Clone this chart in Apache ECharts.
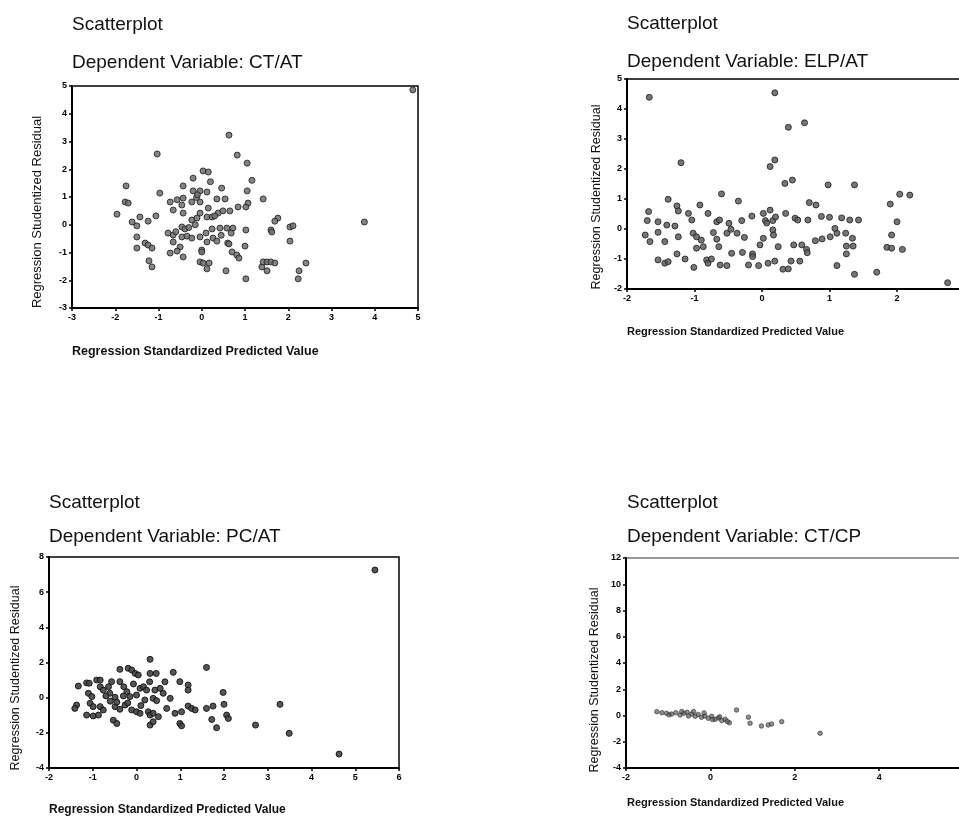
<!DOCTYPE html>
<html>
<head>
<meta charset="utf-8">
<title>Scatterplots</title>
<script src="https://cdn.jsdelivr.net/npm/echarts@6/dist/echarts.min.js"></script>
<style>
  html, body { margin: 0; padding: 0; background: #fff; }
  #main { width: 959px; height: 818px; }
</style>
</head>
<body>
<div id="main"></div>
<script>
// predicted value (x) / studentized residual (y)
var ctAtPoints = [
  [4.88, 4.86], [0.63, 3.23], [-1.03, 2.55], [0.82, 2.51], [1.05, 2.22], [0.03, 1.94], [0.15, 1.9],
  [-0.2, 1.68], [0.2, 1.55], [1.16, 1.6], [-1.75, 1.4], [-0.43, 1.4], [0.46, 1.32], [-0.2, 1.22],
  [-0.04, 1.22], [0.12, 1.18], [1.05, 1.22], [-0.97, 1.14], [-0.43, 0.96], [-0.23, 0.82], [-0.04, 0.82],
  [0.35, 0.93], [0.54, 0.93], [1.42, 0.93], [-1.77, 0.82], [-1.7, 0.78], [-0.73, 0.82], [-0.57, 0.9],
  [1.07, 0.78], [-0.66, 0.53], [-0.46, 0.71], [0.15, 0.6], [-0.04, 0.42], [0.12, 0.28], [0.24, 0.28],
  [0.38, 0.42], [0.49, 0.5], [0.65, 0.5], [0.84, 0.64], [1.02, 0.64], [-1.96, 0.38], [-1.43, 0.28],
  [-1.24, 0.13], [-1.06, 0.32], [-0.43, 0.42], [-0.23, 0.17], [-0.11, 0.24], [-1.61, 0.1], [-1.5, -0.04],
  [1.76, 0.24], [1.69, 0.13], [3.76, 0.1], [2.04, -0.08], [2.11, -0.04], [-0.46, -0.08], [-0.39, -0.15],
  [0.24, -0.15], [0.42, -0.12], [0.58, -0.12], [0.72, -0.12], [1.02, -0.19], [1.6, -0.19], [1.62, -0.26],
  [-0.78, -0.3], [-0.66, -0.37], [-0.46, -0.44], [-0.34, -0.41], [-0.23, -0.48], [-0.04, -0.44],
  [0.26, -0.48], [0.68, -0.3], [-1.5, -0.44], [0.12, -0.62], [0.35, -0.59], [0.6, -0.66], [0.63, -0.69],
  [1.0, -0.77], [2.04, -0.59], [-1.31, -0.66], [-1.24, -0.73], [-1.15, -0.84], [-1.5, -0.84],
  [-0.66, -0.62], [-0.5, -0.8], [-0.57, -0.95], [-0.73, -1.02], [0.0, -0.91], [0.0, -0.98],
  [-0.43, -1.16], [0.7, -0.98], [0.81, -1.09], [0.86, -1.2], [-1.22, -1.3], [-1.15, -1.52],
  [-0.04, -1.34], [0.03, -1.38], [0.17, -1.38], [0.12, -1.59], [0.56, -1.66], [1.02, -1.95],
  [1.39, -1.52], [1.42, -1.34], [1.51, -1.34], [1.6, -1.34], [1.69, -1.38], [1.51, -1.66],
  [2.25, -1.66], [2.41, -1.38], [2.23, -1.95], [-0.12, 0.98], [-0.1, 1.08], [0.3, 0.32],
  [-0.15, 0.0], [-0.3, -0.1], [-0.6, -0.25], [0.45, -0.38], [0.1, -0.3]
];

var elpAtPoints = [
  [-1.67, 4.39], [0.19, 4.54], [0.39, 3.39], [0.63, 3.54], [-1.2, 2.21], [0.12, 2.08], [0.19, 2.3],
  [0.34, 1.52], [0.45, 1.63], [0.98, 1.47], [1.37, 1.47], [-0.6, 1.17], [-0.35, 0.93], [1.9, 0.83],
  [2.04, 1.16], [2.19, 1.13], [-1.39, 0.99], [-1.68, 0.58], [-1.26, 0.77], [-1.24, 0.6], [-1.7, 0.28],
  [-1.54, 0.24], [-1.41, 0.13], [-1.29, 0.1], [-1.09, 0.52], [-1.04, 0.3], [-0.92, 0.8], [-0.8, 0.52],
  [-0.67, 0.24], [-0.63, 0.3], [-0.49, 0.19], [-0.3, 0.28], [-0.15, 0.43], [0.02, 0.52], [0.12, 0.63],
  [0.05, 0.28], [0.07, 0.2], [0.16, 0.28], [0.2, 0.4], [0.35, 0.52], [0.49, 0.36], [0.53, 0.3],
  [0.68, 0.3], [0.7, 0.88], [0.8, 0.8], [0.88, 0.42], [1.0, 0.39], [1.18, 0.37], [1.3, 0.3],
  [1.43, 0.3], [-1.73, -0.2], [-1.66, -0.42], [-1.54, -0.11], [-1.44, -0.42], [-1.24, -0.26],
  [-1.02, -0.14], [-0.97, -0.26], [-0.9, -0.37], [-0.87, -0.59], [-0.97, -0.64], [-0.72, -0.12],
  [-0.67, -0.34], [-0.64, -0.59], [-0.52, -0.14], [-0.46, -0.01], [-0.37, -0.14], [-0.26, -0.28],
  [-0.45, -0.81], [-0.29, -0.78], [-0.14, -0.83], [-0.14, -0.92], [-0.03, -0.53], [0.02, -0.31],
  [0.16, -0.03], [0.17, -0.2], [0.24, -0.59], [0.47, -0.53], [0.59, -0.53], [0.66, -0.68],
  [0.67, -0.79], [0.79, -0.39], [0.89, -0.33], [1.01, -0.26], [1.11, -0.14], [1.08, 0.02],
  [1.24, -0.14], [1.25, -0.57], [1.25, -0.83], [1.34, -0.31], [1.35, -0.57], [1.92, -0.2],
  [1.85, -0.61], [1.92, -0.64], [2.08, -0.68], [2.0, 0.24], [-1.54, -1.03], [-1.44, -1.14],
  [-1.39, -1.09], [-1.26, -0.83], [-1.14, -1.0], [-1.01, -1.28], [-0.82, -1.03], [-0.8, -1.14],
  [-0.75, -1.0], [-0.62, -1.2], [-0.52, -1.22], [-0.2, -1.2], [-0.05, -1.22], [0.09, -1.14],
  [0.19, -1.07], [0.31, -1.34], [0.39, -1.33], [0.43, -1.07], [0.56, -1.07], [1.11, -1.22],
  [1.37, -1.51], [1.7, -1.44], [2.75, -1.79]
];

var pcAtPoints = [
  [5.45, 7.26], [0.31, 2.18], [1.6, 1.72], [-0.19, 1.67], [-0.11, 1.57], [-0.38, 1.61], [-0.03, 1.38],
  [0.04, 1.29], [0.31, 1.38], [0.45, 1.38], [0.84, 1.44], [0.99, 0.91], [1.18, 0.72], [1.18, 0.43],
  [1.98, 0.3], [-1.33, 0.66], [-1.14, 0.84], [-1.08, 0.82], [-0.91, 1.0], [-0.83, 1.0], [-0.57, 0.91],
  [-0.64, 0.62], [-0.83, 0.62], [-0.76, 0.43], [-1.1, 0.25], [-1.02, 0.06], [-0.38, 0.91], [-0.29, 0.62],
  [-0.07, 0.78], [0.08, 0.53], [0.16, 0.62], [0.23, 0.43], [0.42, 0.43], [0.54, 0.53], [0.61, 0.25],
  [0.77, -0.04], [-0.61, 0.25], [-0.49, 0.02], [-0.22, 0.34], [-0.15, 0.06], [0.0, 0.15], [0.19, -0.13],
  [0.38, -0.04], [0.46, -0.17], [-1.37, -0.42], [-1.41, -0.61], [-1.06, -0.32], [-0.99, -0.51],
  [-0.83, -0.51], [-0.76, -0.7], [-0.49, -0.51], [-0.38, -0.66], [-0.26, -0.42], [-0.11, -0.7],
  [0.0, -0.8], [0.08, -0.89], [0.27, -0.8], [0.31, -0.99], [0.38, -0.89], [0.5, -1.08], [0.69, -0.61],
  [0.88, -0.89], [1.03, -0.8], [1.18, -0.48], [1.26, -0.61], [1.34, -0.7], [1.6, -0.61], [1.75, -0.48],
  [2.0, -0.38], [2.06, -0.99], [2.1, -1.18], [1.72, -1.24], [1.83, -1.71], [0.99, -1.47], [1.03, -1.6],
  [0.31, -1.56], [0.38, -1.37], [-0.53, -1.28], [-0.45, -1.47], [-1.14, -0.99], [-0.99, -1.04],
  [-0.87, -0.99], [2.72, -1.56], [3.28, -0.38], [3.49, -2.03], [4.63, -3.21], [-0.3, 0.1],
  [-0.45, -0.25], [0.1, -0.45], [-0.6, -0.2], [-0.2, -0.3], [0.3, 0.9], [-0.7, 0.1], [0.65, 0.9]
];

var ctCpPoints = [
  [-1.27, 0.29], [-1.15, 0.21], [-1.04, 0.17], [-0.92, 0.11], [-0.82, 0.21], [-0.72, 0.04], [-0.63, 0.17],
  [-0.52, -0.04], [-0.44, 0.11], [-0.36, -0.06], [-0.29, 0.08], [-0.21, -0.13], [-0.13, -0.04],
  [-0.05, -0.21], [0.03, -0.06], [0.11, -0.29], [0.19, -0.19], [0.27, -0.39], [0.35, -0.29],
  [0.45, -0.55], [0.62, 0.42], [0.9, -0.13], [0.94, -0.59], [1.21, -0.8], [1.37, -0.72], [1.45, -0.65],
  [1.69, -0.47], [2.6, -1.35], [-0.68, 0.3], [-0.4, 0.3], [-0.15, 0.2], [0.05, -0.3], [0.22, -0.1],
  [-0.55, 0.25], [-0.98, 0.05], [0.4, -0.45]
];

var chart = echarts.init(document.getElementById('main'));

var FONT = '"Liberation Sans", Arial, sans-serif';

function grid(left, top, width, height, border) {
  return {
    left: left, top: top, width: width, height: height,
    outerBoundsMode: 'none',
    show: true, borderColor: border, borderWidth: 1.5, backgroundColor: '#fff'
  };
}

function axis(idx, min, max, interval) {
  return {
    type: 'value', gridIndex: idx, min: min, max: max, interval: interval,
    splitLine: { show: false },
    axisLine: { show: true, onZero: false, lineStyle: { color: '#000', width: 2 } },
    axisTick: { show: true, length: 3, lineStyle: { color: '#000', width: 1.5 } },
    axisLabel: { fontSize: 9, fontWeight: 'bold', color: '#000', margin: 5, fontFamily: FONT }
  };
}

function dots(idx, data, size, fill, stroke, alpha) {
  return {
    type: 'scatter', xAxisIndex: idx, yAxisIndex: idx, data: data, symbolSize: size,
    itemStyle: { color: fill, borderColor: stroke, borderWidth: 1, opacity: alpha },
    silent: true
  };
}

function text(x, y, str, font, rot) {
  return {
    type: 'text', x: x, y: y, rotation: rot || 0, silent: true,
    style: {
      text: str, font: font, fill: '#111',
      align: rot ? 'center' : 'left', verticalAlign: 'middle',
      textAlign: rot ? 'center' : 'left', textVerticalAlign: 'middle'
    }
  };
}

var titleFont = '19px ' + FONT;
var xName = 'Regression Standardized Predicted Value';
var yName = 'Regression Studentized Residual';

var option = {
  animation: false,
  backgroundColor: '#fff',
  grid: [
    grid(72, 86, 346, 222, '#000'),
    grid(627, 79, 337.5, 210, '#000'),
    grid(49, 557, 350, 211, '#000'),
    grid(626, 558, 337.6, 210, '#777')
  ],
  xAxis: [
    axis(0, -3, 5, 1),
    axis(1, -2, 3, 1),
    axis(2, -2, 6, 1),
    axis(3, -2, 6, 2)
  ],
  yAxis: [
    axis(0, -3, 5, 1),
    axis(1, -2, 5, 1),
    axis(2, -4, 8, 2),
    axis(3, -4, 12, 2)
  ],
  series: [
    dots(0, ctAtPoints, 6, '#6e6e6e', '#222', 0.85),
    dots(1, elpAtPoints, 6, '#5e5e5e', '#222', 0.85),
    dots(2, pcAtPoints, 6, '#444', '#111', 0.9),
    dots(3, ctCpPoints, 4.5, '#555', '#333', 0.65)
  ],
  graphic: [
    text(72, 25, 'Scatterplot', titleFont),
    text(72, 63, 'Dependent Variable: CT/AT', titleFont),
    text(72, 352, xName, 'bold 12.5px ' + FONT),
    text(37, 212, yName, '13px ' + FONT, Math.PI / 2),

    text(627, 24, 'Scatterplot', titleFont),
    text(627, 62, 'Dependent Variable: ELP/AT', titleFont),
    text(627, 332, xName, 'bold 11px ' + FONT),
    text(597, 197, yName, '12.5px ' + FONT, Math.PI / 2),

    text(49, 503, 'Scatterplot', titleFont),
    text(49, 537, 'Dependent Variable: PC/AT', titleFont),
    text(49, 810, xName, 'bold 12px ' + FONT),
    text(16, 678, yName, '12.5px ' + FONT, Math.PI / 2),

    text(627, 503, 'Scatterplot', titleFont),
    text(627, 537, 'Dependent Variable: CT/CP', titleFont),
    text(627, 803, xName, 'bold 11px ' + FONT),
    text(595, 680, yName, '12.5px ' + FONT, Math.PI / 2)
  ]
};

chart.setOption(option);
</script>
</body>
</html>
